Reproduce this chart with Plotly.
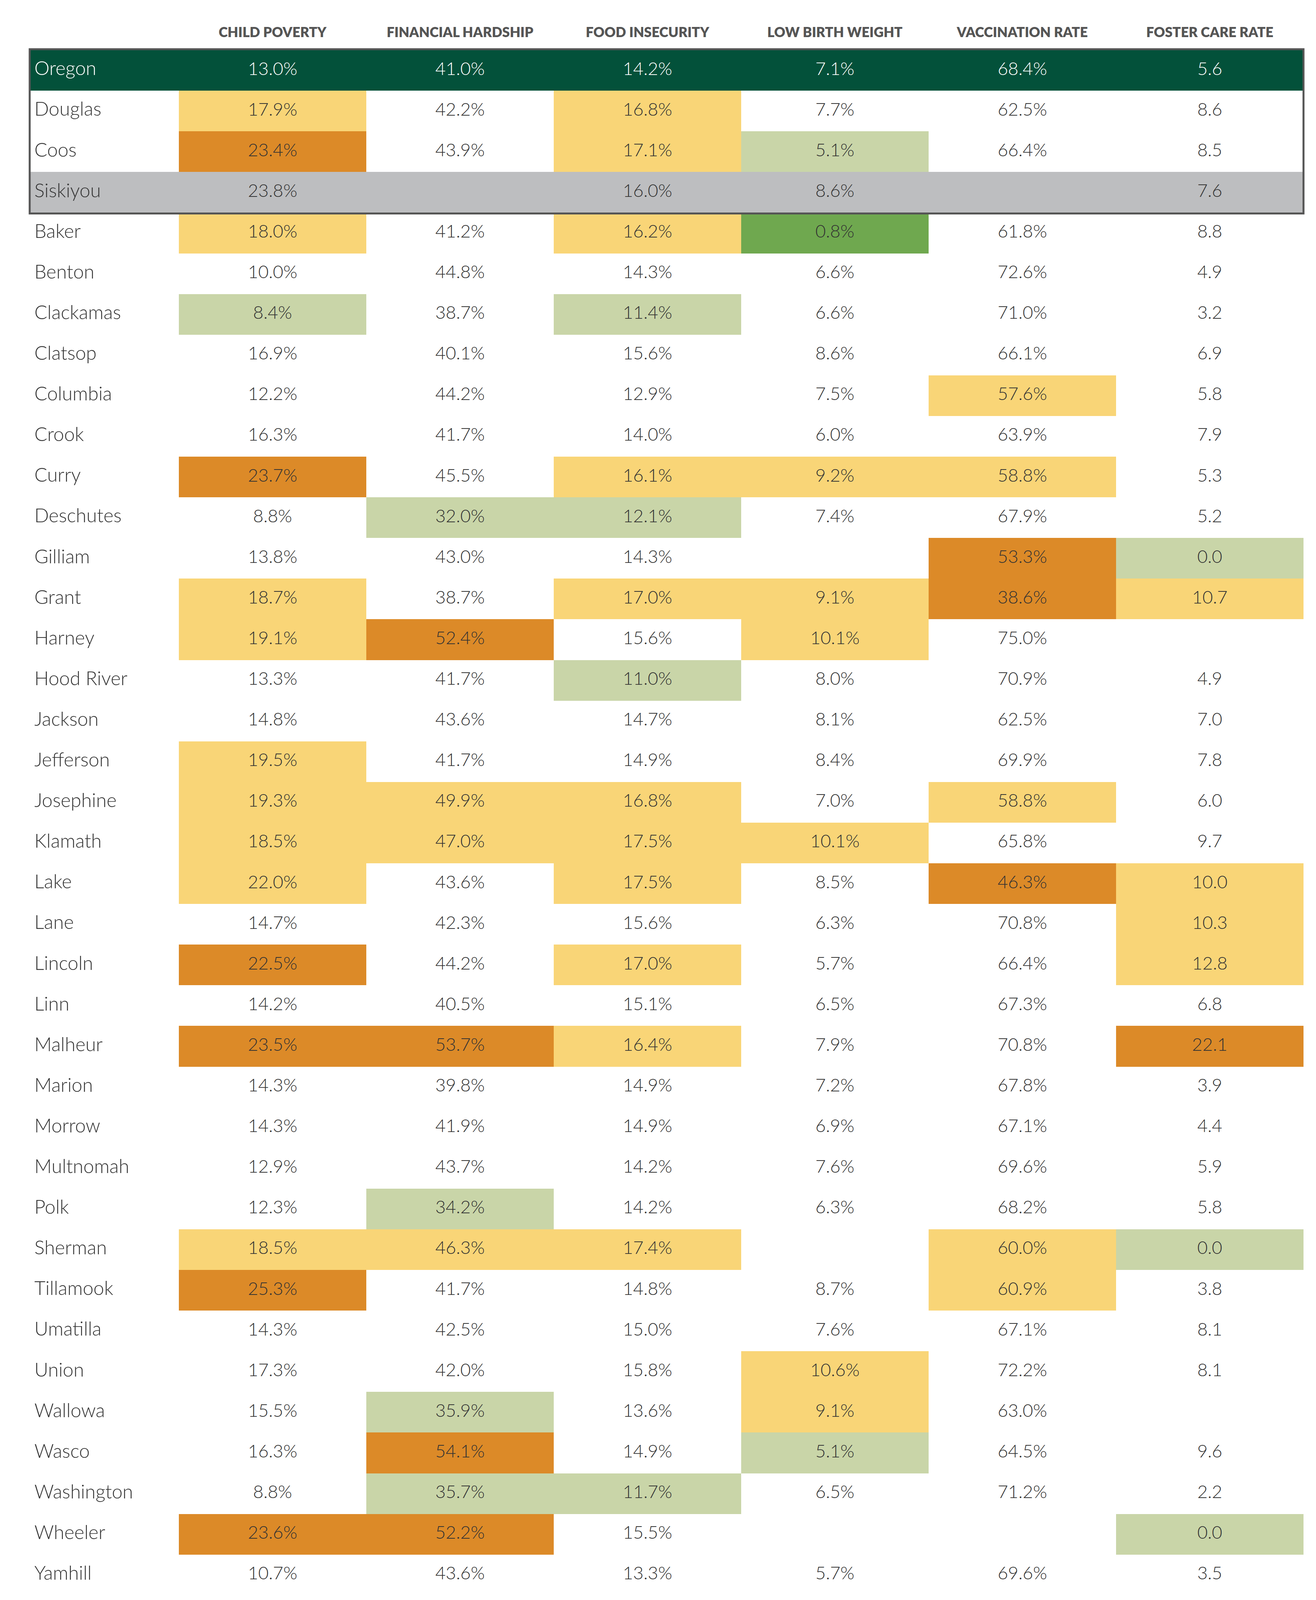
import plotly.graph_objects as go

# county rows (Oregon state total first, then the boxed comparison counties)
counties = ["Oregon", "Douglas", "Coos", "Siskiyou", "Baker", "Benton", "Clackamas",
            "Clatsop", "Columbia", "Crook", "Curry", "Deschutes", "Gilliam", "Grant",
            "Harney", "Hood River", "Jackson", "Jefferson", "Josephine", "Klamath",
            "Lake", "Lane", "Lincoln", "Linn", "Malheur", "Marion", "Morrow",
            "Multnomah", "Polk", "Sherman", "Tillamook", "Umatilla", "Union",
            "Wallowa", "Wasco", "Washington", "Wheeler", "Yamhill"]

headers = ["CHILD POVERTY", "FINANCIAL HARDSHIP", "FOOD INSECURITY",
           "LOW BIRTH WEIGHT", "VACCINATION RATE", "FOSTER CARE RATE"]

child_poverty = [13.0, 17.9, 23.4, 23.8, 18.0, 10.0, 8.4, 16.9, 12.2, 16.3, 23.7, 8.8, 13.8,
                 18.7, 19.1, 13.3, 14.8, 19.5, 19.3, 18.5, 22.0, 14.7, 22.5, 14.2, 23.5,
                 14.3, 14.3, 12.9, 12.3, 18.5, 25.3, 14.3, 17.3, 15.5, 16.3, 8.8, 23.6, 10.7]
financial_hardship = [41.0, 42.2, 43.9, None, 41.2, 44.8, 38.7, 40.1, 44.2, 41.7, 45.5, 32.0,
                      43.0, 38.7, 52.4, 41.7, 43.6, 41.7, 49.9, 47.0, 43.6, 42.3, 44.2, 40.5,
                      53.7, 39.8, 41.9, 43.7, 34.2, 46.3, 41.7, 42.5, 42.0, 35.9, 54.1, 35.7,
                      52.2, 43.6]
food_insecurity = [14.2, 16.8, 17.1, 16.0, 16.2, 14.3, 11.4, 15.6, 12.9, 14.0, 16.1, 12.1, 14.3,
                   17.0, 15.6, 11.0, 14.7, 14.9, 16.8, 17.5, 17.5, 15.6, 17.0, 15.1, 16.4,
                   14.9, 14.9, 14.2, 14.2, 17.4, 14.8, 15.0, 15.8, 13.6, 14.9, 11.7, 15.5, 13.3]
low_birth_weight = [7.1, 7.7, 5.1, 8.6, 0.8, 6.6, 6.6, 8.6, 7.5, 6.0, 9.2, 7.4, None, 9.1,
                    10.1, 8.0, 8.1, 8.4, 7.0, 10.1, 8.5, 6.3, 5.7, 6.5, 7.9, 7.2, 6.9, 7.6,
                    6.3, None, 8.7, 7.6, 10.6, 9.1, 5.1, 6.5, None, 5.7]
vaccination_rate = [68.4, 62.5, 66.4, None, 61.8, 72.6, 71.0, 66.1, 57.6, 63.9, 58.8, 67.9,
                    53.3, 38.6, 75.0, 70.9, 62.5, 69.9, 58.8, 65.8, 46.3, 70.8, 66.4, 67.3,
                    70.8, 67.8, 67.1, 69.6, 68.2, 60.0, 60.9, 67.1, 72.2, 63.0, 64.5, 71.2,
                    None, 69.6]
foster_care_rate = [5.6, 8.6, 8.5, 7.6, 8.8, 4.9, 3.2, 6.9, 5.8, 7.9, 5.3, 5.2, 0.0, 10.7,
                    None, 4.9, 7.0, 7.8, 6.0, 9.7, 10.0, 10.3, 12.8, 6.8, 22.1, 3.9, 4.4, 5.9,
                    5.8, 0.0, 3.8, 8.1, 8.1, None, 9.6, 2.2, 0.0, 3.5]

# cell highlight: "" none, Y yellow, O orange, L light green, G green
child_poverty_hl = ["", "Y", "O", "", "Y", "", "L", "", "", "", "O", "", "", "Y", "Y", "", "",
                    "Y", "Y", "Y", "Y", "", "O", "", "O", "", "", "", "", "Y", "O", "", "",
                    "", "", "", "O", ""]
financial_hardship_hl = ["", "", "", "", "", "", "", "", "", "", "", "L", "", "", "O", "", "",
                         "", "Y", "Y", "", "", "", "", "O", "", "", "", "L", "Y", "", "", "",
                         "L", "O", "L", "O", ""]
food_insecurity_hl = ["", "Y", "Y", "", "Y", "", "L", "", "", "", "Y", "L", "", "Y", "", "L",
                      "", "", "Y", "Y", "Y", "", "Y", "", "Y", "", "", "", "", "Y", "", "", "",
                      "", "", "L", "", ""]
low_birth_weight_hl = ["", "", "L", "", "G", "", "", "", "", "", "Y", "", "", "Y", "Y", "", "",
                       "", "", "Y", "", "", "", "", "", "", "", "", "", "", "", "", "Y", "Y",
                       "L", "", "", ""]
vaccination_rate_hl = ["", "", "", "", "", "", "", "", "Y", "", "Y", "", "O", "O", "", "", "",
                       "", "Y", "", "O", "", "", "", "", "", "", "", "", "Y", "Y", "", "", "",
                       "", "", "", ""]
foster_care_rate_hl = ["", "", "", "", "", "", "", "", "", "", "", "", "L", "Y", "", "", "", "",
                       "", "", "Y", "Y", "Y", "", "O", "", "", "", "", "L", "", "", "", "", "",
                       "", "L", ""]

columns = [child_poverty, financial_hardship, food_insecurity,
           low_birth_weight, vaccination_rate, foster_care_rate]
highlights = [child_poverty_hl, financial_hardship_hl, food_insecurity_hl,
              low_birth_weight_hl, vaccination_rate_hl, foster_care_rate_hl]
suffix = ["%", "%", "%", "%", "%", ""]

# colours
codes = {"": 0, "Y": 1, "O": 2, "L": 3, "G": 4, "STATE": 5, "NA": 6}
palette = ["#ffffff", "#f9d577", "#dc8a28", "#c9d5a8", "#6fa84f", "#03513a", "#bdbec0"]

# layout in pixels
W, H = 3370, 4116
x_edges = [68, 450, 930, 1410, 1890, 2370, 2850, 3330]
top, row_h = 120, 104.1
y_edges = [top + i * row_h for i in range(len(counties) + 1)]
x_mid = [(x_edges[j] + x_edges[j + 1]) / 2 for j in range(1, 7)]
y_mid = [(y_edges[i] + y_edges[i + 1]) / 2 for i in range(len(counties))]

z = []
for i, c in enumerate(counties):
    if c == "Oregon":
        z.append([codes["STATE"]] * 7)
    elif c == "Siskiyou":
        z.append([codes["NA"]] * 7)
    else:
        z.append([0] + [codes[h[i]] for h in highlights])

n = len(palette) - 1
scale = [[k / n, col] for k, col in enumerate(palette)]

fig = go.Figure()
fig.add_trace(go.Heatmap(z=z, x=x_edges, y=y_edges, colorscale=scale, zmin=0, zmax=n,
                         showscale=False, hoverinfo="skip", xgap=0, ygap=0))

# cell values
tx, ty, tt, tc = [], [], [], []
for j, col in enumerate(columns):
    for i, v in enumerate(col):
        if v is None:
            continue
        tx.append(x_mid[j])
        ty.append(y_mid[i])
        tt.append(f"{v:.1f}{suffix[j]}")
        tc.append("#ffffff" if counties[i] == "Oregon" else "#333333")

fig.add_trace(go.Scatter(x=tx, y=ty, text=tt, mode="text", textposition="middle center",
                         textfont=dict(family="Lato", size=46, color=tc, weight=300),
                         hoverinfo="skip"))

# county names
fig.add_trace(go.Scatter(x=[80] * len(counties), y=y_mid, text=counties, mode="text",
                         textposition="middle right",
                         textfont=dict(family="Lato", size=49, weight=300,
                                       color=["#ffffff" if c == "Oregon" else "#333333" for c in counties]),
                         hoverinfo="skip"))

# column headers
fig.add_trace(go.Scatter(x=x_mid, y=[78] * 6, text=headers, mode="text",
                         textposition="middle center",
                         textfont=dict(family="Lato", size=35, color="#555555", weight=800),
                         hoverinfo="skip"))

# frame round the state + comparison rows
fig.add_shape(type="rect", x0=x_edges[0], x1=x_edges[-1], y0=y_edges[0] - 2, y1=y_edges[4] + 2,
              line=dict(color="#555555", width=5), fillcolor="rgba(0,0,0,0)")

fig.update_xaxes(range=[0, W], visible=False, fixedrange=True)
fig.update_yaxes(range=[H, 0], visible=False, fixedrange=True)
fig.update_layout(width=W, height=H, margin=dict(l=0, r=0, t=0, b=0),
                  plot_bgcolor="#ffffff", paper_bgcolor="#ffffff", showlegend=False)

fig.write_html("out.html")
